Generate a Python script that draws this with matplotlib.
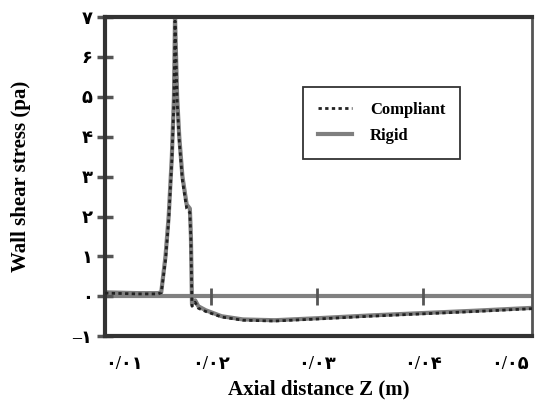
import matplotlib.pyplot as plt
import numpy as np

# Axial position (m) and wall shear stress (Pa)
z_rigid = [0.0100, 0.0130, 0.0150, 0.0153, 0.0157, 0.0160, 0.0163, 0.0165, 0.0166,
           0.0168, 0.0170, 0.0173, 0.0177, 0.0180, 0.0181, 0.0182, 0.0185, 0.0188,
           0.0195, 0.0210, 0.0230, 0.0260, 0.0300, 0.0350, 0.0400, 0.0450, 0.0503]
tau_rigid = [0.10, 0.08, 0.08, 0.10, 1.00, 2.00, 3.50, 5.00, 7.00,
             5.00, 4.00, 3.00, 2.30, 2.20, 1.50, -0.20, -0.10, -0.25,
             -0.35, -0.50, -0.58, -0.60, -0.55, -0.48, -0.42, -0.36, -0.29]

z_compliant = [0.0100, 0.0130, 0.0150, 0.0153, 0.0157, 0.0160, 0.0163, 0.0165, 0.0166,
               0.0168, 0.0170, 0.0173, 0.0177, 0.0180, 0.0181, 0.0182, 0.0185, 0.0188,
               0.0195, 0.0210, 0.0230, 0.0260, 0.0300, 0.0350, 0.0400, 0.0450, 0.0503]
tau_compliant = [0.08, 0.06, 0.06, 0.09, 0.90, 1.90, 3.40, 4.90, 6.90,
                 4.90, 3.90, 2.90, 2.20, 2.10, 1.40, -0.25, -0.15, -0.30,
                 -0.38, -0.52, -0.60, -0.62, -0.57, -0.50, -0.44, -0.38, -0.31]

fa = '۰۱۲۳۴۵۶۷۸۹'
def fa_num(s):
    return ''.join(fa[int(c)] if c.isdigit() else c for c in s)

y_ticks = [-1, 0, 1, 2, 3, 4, 5, 6, 7]
y_labels = ['–' + fa_num('1')] + [fa_num(str(v)) for v in y_ticks[1:]]
x_ticks = [0.01, 0.02, 0.03, 0.04, 0.05]
x_labels = [fa_num('0') + '/' + fa_num('0' + str(i)) for i in range(1, 6)]

tick_font = dict(family=['Liberation Serif', 'DejaVu Sans'], weight='bold', size=13)

fig = plt.figure(figsize=(5.36, 4.07), dpi=100)
ax = fig.add_axes([0.196, 0.174, 0.797, 0.784])

# zero reference line with its small tick marks
ax.axhline(0, color='#808080', lw=3, zorder=1)
ax.vlines(x_ticks[1:4], -0.22, 0.22, color='#555555', lw=2, zorder=1)

ax.plot(z_rigid, tau_rigid, color='#7f7f7f', lw=3, label='Rigid', zorder=2)
ax.plot(z_compliant, tau_compliant, color='#222222', lw=2,
        linestyle=(0, (1.2, 1.2)), label='Compliant', zorder=3)

ax.set_xlim(0.01, 0.0503)
ax.set_ylim(-1, 7)
ax.set_yticks(y_ticks)
ax.set_yticklabels(y_labels, fontdict=tick_font)
ax.set_xticks(x_ticks)
ax.set_xticklabels(x_labels, fontdict=tick_font)
ax.tick_params(axis='y', direction='inout', length=12, width=2.5, color='#555555', pad=3)
ax.tick_params(axis='x', length=0, pad=14)
xt = ax.get_xticklabels()
xt[0].set_ha('left')
xt[-1].set_ha('right')

for side in ['left', 'bottom', 'top']:
    ax.spines[side].set_linewidth(3)
    ax.spines[side].set_color('#333333')
ax.spines['right'].set_linewidth(2)
ax.spines['right'].set_color('#555555')

ax.set_xlabel('Axial distance Z (m)', family='Liberation Serif', weight='bold',
              size=15, labelpad=5)
ax.set_ylabel('Wall shear stress (pa)', family='Liberation Serif', weight='bold',
              size=15, labelpad=30)

handles, labels = ax.get_legend_handles_labels()
leg = ax.legend(handles[::-1], labels[::-1], loc='upper left', bbox_to_anchor=(0.464, 0.78),
                borderaxespad=0, frameon=True, fancybox=False, edgecolor='black',
                handlelength=2.0, handletextpad=1.1, borderpad=0.9, labelspacing=0.6,
                prop=dict(family='Liberation Serif', weight='bold', size=12))
leg.get_frame().set_linewidth(1.3)

fig.savefig('out.png', dpi=100)
